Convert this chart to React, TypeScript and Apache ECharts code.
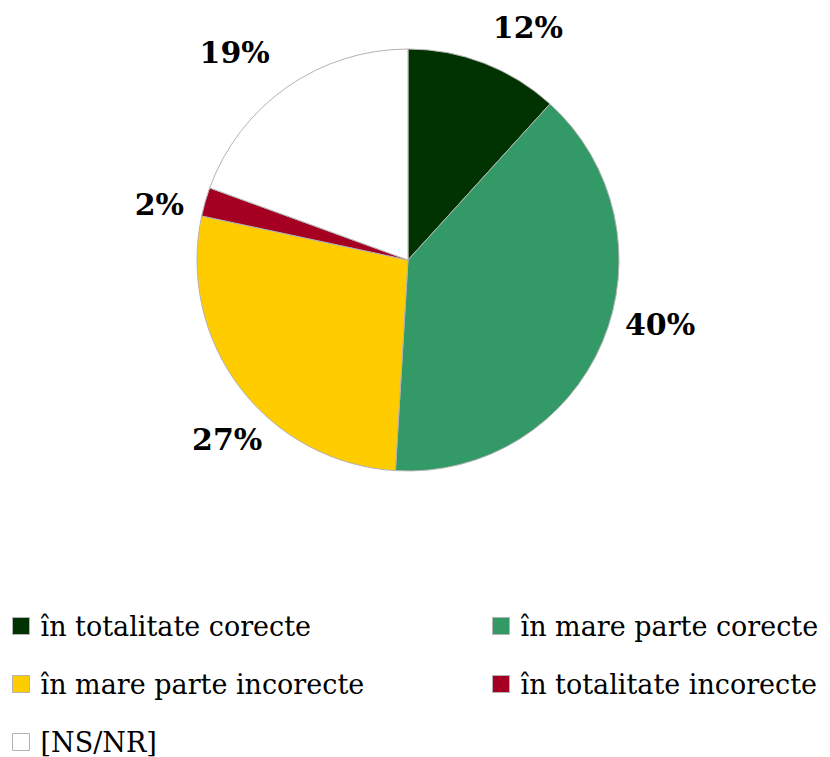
import React, { useEffect, useRef } from "react";
import * as echarts from "echarts";

const categories = [
  "în totalitate corecte",
  "în mare parte corecte",
  "în mare parte incorecte",
  "în totalitate incorecte",
  "[NS/NR]",
];
const values = [11.75, 39.2, 27.4, 2.2, 19.45];
const percentLabels = ["12%", "40%", "27%", "2%", "19%"];
const colors = ["#003300", "#339966", "#ffcc00", "#a50021", "#ffffff"];
const legendLeft = [categories[0], categories[2], categories[4]];
const legendRight = [categories[1], categories[3]];

// small nudges so the percentage labels sit where the original renderer put them
const labelNudge: [number, number][] = [
  [28, -8],
  [25, -29],
  [16, 34],
  [-12, 11],
  [-30, -10],
];

export default function App() {
  const ref = useRef<HTMLDivElement>(null);
  useEffect(() => {
    if (!ref.current) return;
    const chart = echarts.init(ref.current, null, { renderer: "svg" });
    const legendText = {
      fontFamily: "DejaVu Serif",
      fontSize: 27,
      color: "#000",
      lineHeight: 28,
      padding: [0, 0, 0, 6],
    };
    const legendCommon = {
      orient: "vertical",
      top: 612,
      padding: 0,
      icon: "rect",
      itemWidth: 17,
      itemHeight: 17,
      itemGap: 30,
      textStyle: legendText,
      itemStyle: { borderColor: "#b3b3b3", borderWidth: 1 },
      selectedMode: false,
    };
    chart.setOption({
      animation: false,
      backgroundColor: "#ffffff",
      legend: [
        { ...legendCommon, data: legendLeft, left: 12 },
        { ...legendCommon, data: legendRight, left: 492 },
      ],
      series: [
        {
          type: "pie",
          center: [408, 260],
          radius: [0, 211],
          startAngle: 90,
          clockwise: true,
          avoidLabelOverlap: false,
          data: categories.map((name, i) => ({
            name,
            value: values[i],
            itemStyle: { color: colors[i] },
          })),
          itemStyle: { borderColor: "#b3b3b3", borderWidth: 1 },
          label: {
            show: true,
            position: "outside",
            formatter: (p: any) => percentLabels[p.dataIndex],
            fontFamily: "DejaVu Serif",
            fontWeight: "bold",
            fontSize: 30,
            color: "#000",
          },
          labelLine: { show: false, length: 30, length2: 0 },
          labelLayout: (p: any) => ({
            align: "center",
            verticalAlign: "middle",
            dx: labelNudge[p.dataIndex][0],
            dy: labelNudge[p.dataIndex][1],
          }),
          emphasis: { disabled: true },
        },
      ],
    });
    return () => chart.dispose();
  }, []);
  return (
    <div
      ref={ref}
      style={{ position: "absolute", left: 0, top: 0, width: 830, height: 757 }}
    />
  );
}
